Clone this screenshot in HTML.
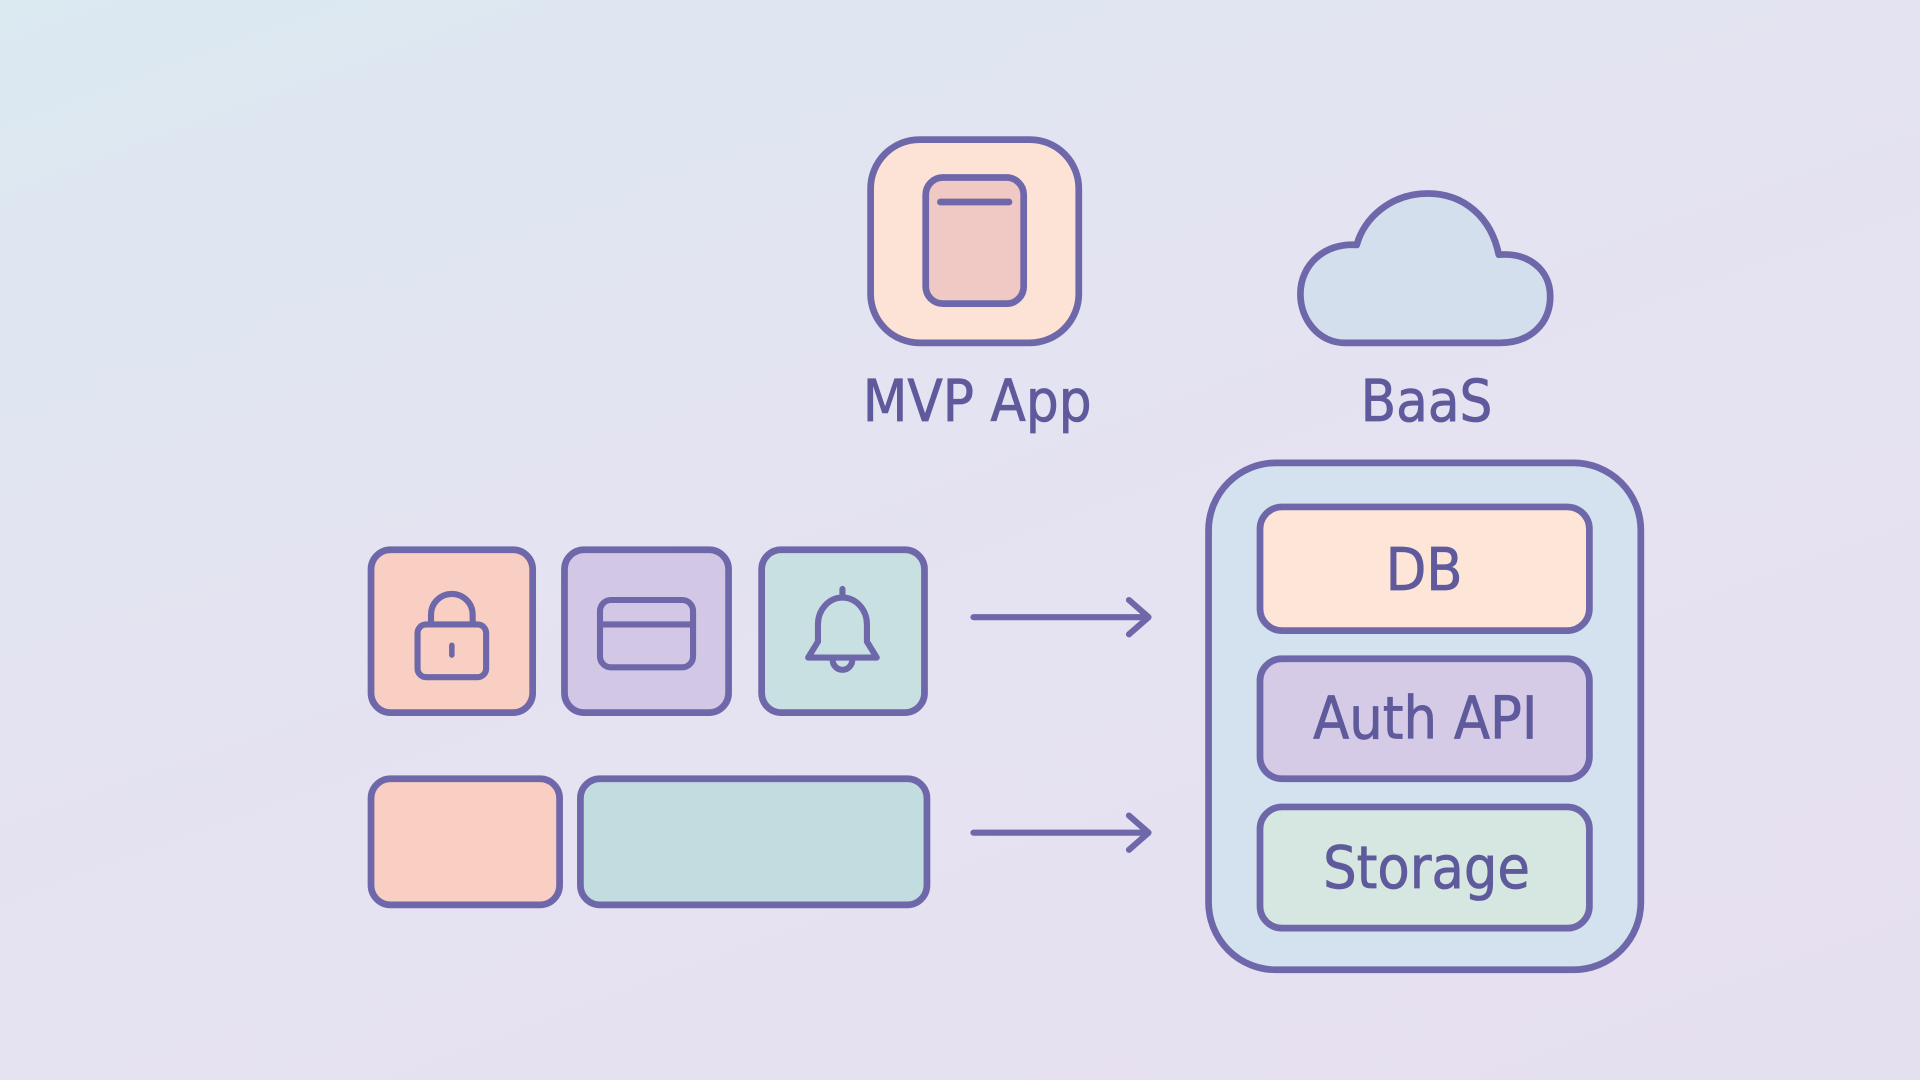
<!DOCTYPE html>
<html><head><meta charset="utf-8"><style>
html,body{margin:0;padding:0;width:1920px;height:1080px;overflow:hidden}
body{background:linear-gradient(160deg,#dbe9f1 0%,#e4e3f1 40%,#e6e1f1 75%,#e5e0ef 100%)}
svg{display:block}
text{font-family:"DejaVu Sans Condensed","DejaVu Sans","Liberation Sans",sans-serif;font-weight:500;fill:#5f5a9c;text-anchor:middle;stroke:#5f5a9c;stroke-width:0.6}
</style></head><body>
<svg width="1920" height="1080" viewBox="0 0 1568 882" xmlns="http://www.w3.org/2000/svg">
<g stroke="#6e68ab" stroke-width="5.5" stroke-linecap="round" stroke-linejoin="round">
<rect x="711" y="114" width="170" height="166" rx="40" fill="#fde3d6"/>
<rect x="756" y="145" width="80" height="103" rx="14" fill="#f1c9c4"/>
<line x1="768" y1="165" x2="824" y2="165"/>
<path d="M1098 280 L1225 280 C1250 280 1266 264 1266 242 C1266 220 1248 206 1224 208 C1218 178 1196 158 1166 158 C1136 158 1114 178 1108 200 C1082 198 1062 216 1062 240 C1062 262 1078 280 1098 280 Z" fill="#d4dfee"/>
<rect x="987" y="378" width="353" height="414" rx="55" fill="#d3e2ee"/>
<rect x="1029" y="414" width="269" height="101" rx="18" fill="#fde5d8"/>
<rect x="1029" y="538" width="269" height="98" rx="18" fill="#d6cbe6"/>
<rect x="1029" y="659" width="269" height="99" rx="18" fill="#d5e7e0"/>
<rect x="303" y="449" width="132" height="133" rx="16" fill="#f8cfc2"/>
<rect x="461" y="449" width="134" height="133" rx="16" fill="#d2c8e6"/>
<rect x="622" y="449" width="133" height="133" rx="16" fill="#c9e0e2"/>
<rect x="303" y="636" width="154" height="103" rx="16" fill="#f8cfc2"/>
<rect x="474" y="636" width="283" height="103" rx="16" fill="#c2dde0"/>
<!-- lock -->
<path d="M352 510 V502 A17 17 0 0 1 386 502 V510" fill="none" stroke-width="5"/>
<rect x="341" y="510" width="56" height="43" rx="7" fill="none" stroke-width="5"/>
<line x1="369" y1="527" x2="369" y2="535" stroke-width="4.5"/>
<!-- card -->
<rect x="490" y="490" width="76" height="55" rx="9" fill="none" stroke-width="5"/>
<line x1="491" y1="510" x2="565" y2="510" stroke-width="5"/>
<!-- bell -->
<path d="M688 481 V487 M668 524 V510 A20 22 0 0 1 708 510 V524 L716 537 H660 Z" fill="none" stroke-width="5"/>
<path d="M680 539 A8 8 0 0 0 696 539" fill="none" stroke-width="5"/>
<!-- arrows -->
<path d="M795 504 H936 M922 490 L938 504 L922 518" fill="none" stroke-width="5"/>
<path d="M795 680 H936 M922 666 L938 680 L922 694" fill="none" stroke-width="5"/>
</g>
<text x="798" y="344" font-size="47">MVP App</text>
<text x="1165" y="344" font-size="47">BaaS</text>
<text x="1163" y="482" font-size="48">DB</text>
<text x="1164" y="603" font-size="48">Auth API</text>
<text x="1165" y="725" font-size="48">Storage</text>
</svg>
</body></html>
